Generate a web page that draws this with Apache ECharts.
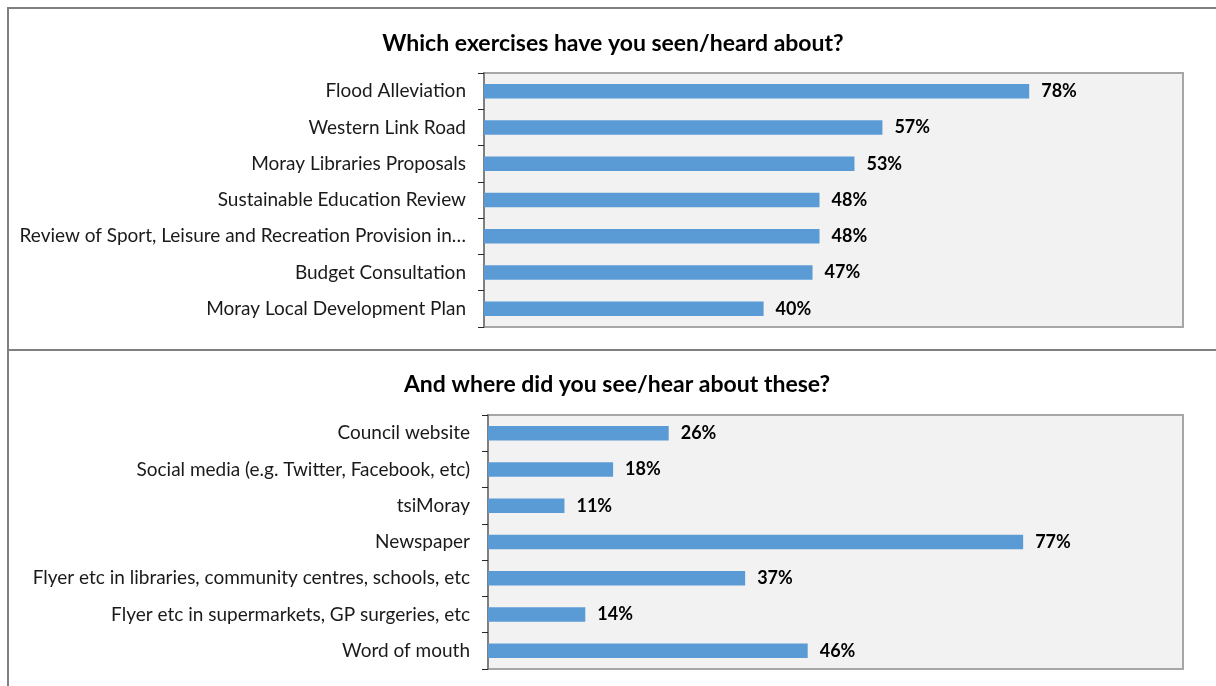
<!DOCTYPE html>
<html>
<head>
<meta charset="utf-8">
<script src="https://cdn.jsdelivr.net/npm/echarts@6/dist/echarts.min.js"></script>
<style>
  html, body { margin: 0; padding: 0; background: #ffffff; }
  #chart { width: 1216px; height: 686px; }
</style>
</head>
<body>
<div id="chart"></div>
<script>
// Survey: awareness of consultation exercises (percent of respondents)
const exerciseTitle = 'Which exercises have you seen/heard about?';
const exerciseCategories = [
  'Flood Alleviation',
  'Western Link Road',
  'Moray Libraries Proposals',
  'Sustainable Education Review',
  'Review of Sport, Leisure and Recreation Provision in…',
  'Budget Consultation',
  'Moray Local Development Plan'
];
const exerciseValues = [78, 57, 53, 48, 48, 47, 40];

// Survey: where respondents saw/heard about the exercises (percent)
const sourceTitle = 'And where did you see/hear about these?';
const sourceCategories = [
  'Council website',
  'Social media (e.g. Twitter, Facebook, etc)',
  'tsiMoray',
  'Newspaper',
  'Flyer etc in libraries, community centres, schools, etc',
  'Flyer etc in supermarkets, GP surgeries, etc',
  'Word of mouth'
];
const sourceValues = [26, 18, 11, 77, 37, 14, 46];

const FONT = 'Lato, "Noto Sans", sans-serif';
const BAR = '#5b9bd5';

function valueAxis(gridIndex) {
  return {
    type: 'value', gridIndex, min: 0, max: 100,
    show: false, splitLine: { show: false }
  };
}

function categoryAxis(gridIndex, data) {
  return {
    type: 'category', gridIndex, data, inverse: true,
    axisLine: { show: true, lineStyle: { color: '#7f7f7f', width: 2 } },
    axisTick: { show: true, length: 6, inside: false, lineStyle: { color: '#262626', width: 1 } },
    axisLabel: { color: '#1a1a1a', fontFamily: FONT, fontSize: 19, margin: 18 },
    splitLine: { show: false }
  };
}

function barSeries(index, data) {
  return {
    type: 'bar', xAxisIndex: index, yAxisIndex: index, data,
    barWidth: '40%',
    itemStyle: { color: BAR },
    label: {
      show: true, position: 'right', distance: 12,
      formatter: '{c}%', color: '#000000',
      fontFamily: FONT, fontSize: 18, fontWeight: 'bold'
    },
    silent: true
  };
}

const chart = echarts.init(document.getElementById('chart'), null, { renderer: 'canvas' });

chart.setOption({
  backgroundColor: '#ffffff',
  animation: false,
  title: [
    { text: exerciseTitle, left: 608, textAlign: 'center', top: 27,
      textStyle: { fontFamily: FONT, fontSize: 23, fontWeight: 'bold', color: '#000000' } },
    { text: sourceTitle, left: 612, textAlign: 'center', top: 368,
      textStyle: { fontFamily: FONT, fontSize: 23, fontWeight: 'bold', color: '#000000' } }
  ],
  grid: [
    { left: 484, top: 73, width: 699, height: 254, show: true,
      backgroundColor: '#f2f2f2', borderColor: '#a6a6a6', borderWidth: 2 },
    { left: 488, top: 415, width: 695, height: 254, show: true,
      backgroundColor: '#f2f2f2', borderColor: '#a6a6a6', borderWidth: 2 }
  ],
  xAxis: [valueAxis(0), valueAxis(1)],
  yAxis: [categoryAxis(0, exerciseCategories), categoryAxis(1, sourceCategories)],
  series: [barSeries(0, exerciseValues), barSeries(1, sourceValues)],
  graphic: [
    { type: 'rect', silent: true, z: 100,
      shape: { x: 8, y: 8, width: 1220, height: 700 },
      style: { fill: null, stroke: '#808080', lineWidth: 2 } },
    { type: 'line', silent: true, z: 100,
      shape: { x1: 8, y1: 350, x2: 1216, y2: 350 },
      style: { stroke: '#808080', lineWidth: 2 } }
  ]
});
</script>
</body>
</html>
